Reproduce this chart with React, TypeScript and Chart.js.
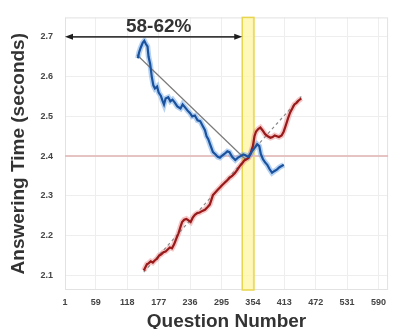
import React, { useEffect, useRef } from "react";
import { Chart, registerables } from "chart.js";

Chart.register(...registerables);

const xTickValues = [1, 59, 118, 177, 236, 295, 354, 413, 472, 531, 590];
const yTickValues = [2.1, 2.2, 2.3, 2.4, 2.5, 2.6, 2.7];

const blueX = [138, 140, 143, 147, 150, 153, 156, 158, 161, 164, 167, 170, 174, 177, 181, 184, 187, 190, 195, 199, 203, 207, 212, 218, 222, 227, 231, 236, 240, 245, 250, 255, 260, 264, 267, 270, 274, 279, 284, 288, 292, 297, 301, 306, 310, 315, 321, 326, 331, 336, 340, 345, 349, 353, 358, 362, 366, 369, 373, 377, 381, 385, 390, 394, 399, 404, 408, 412];
const blueY = [2.646, 2.66, 2.672, 2.685, 2.69, 2.682, 2.676, 2.65, 2.632, 2.6, 2.578, 2.57, 2.575, 2.56, 2.552, 2.54, 2.53, 2.545, 2.548, 2.538, 2.542, 2.535, 2.525, 2.52, 2.53, 2.522, 2.515, 2.508, 2.5, 2.502, 2.49, 2.488, 2.475, 2.465, 2.45, 2.443, 2.428, 2.41, 2.404, 2.398, 2.396, 2.402, 2.406, 2.412, 2.41, 2.398, 2.39, 2.396, 2.4, 2.404, 2.402, 2.398, 2.404, 2.414, 2.422, 2.43, 2.425, 2.405, 2.392, 2.384, 2.378, 2.368, 2.358, 2.362, 2.366, 2.372, 2.375, 2.378];

const redX = [149, 152, 155, 158, 162, 166, 170, 174, 178, 182, 186, 190, 194, 198, 202, 206, 210, 214, 218, 221, 225, 229, 233, 237, 241, 245, 249, 254, 259, 264, 269, 273, 276, 279, 283, 288, 293, 297, 301, 305, 310, 315, 320, 325, 329, 334, 338, 342, 346, 350, 354, 357, 360, 364, 368, 372, 377, 382, 387, 391, 395, 399, 403, 408, 412, 416, 420, 424, 428, 432, 436, 440, 445];
const redY = [2.112, 2.12, 2.128, 2.13, 2.135, 2.132, 2.138, 2.142, 2.15, 2.153, 2.158, 2.16, 2.165, 2.17, 2.168, 2.178, 2.192, 2.205, 2.222, 2.234, 2.24, 2.242, 2.238, 2.234, 2.245, 2.252, 2.256, 2.258, 2.262, 2.265, 2.272, 2.278, 2.29, 2.302, 2.308, 2.315, 2.322, 2.328, 2.333, 2.338, 2.345, 2.35, 2.357, 2.366, 2.374, 2.382, 2.389, 2.392, 2.396, 2.408, 2.425, 2.45, 2.462, 2.468, 2.472, 2.465, 2.455, 2.45, 2.446, 2.448, 2.452, 2.45, 2.448, 2.452, 2.462, 2.478, 2.495, 2.51, 2.52, 2.53, 2.534, 2.54, 2.545];

const blueTrendX = [136, 340];
const blueTrendY = [2.655, 2.392];
const redTrendX = [149, 445];
const redTrendY = [2.108, 2.55];

const bandRange = [334, 356];
const arrowRange = [1, 334];
const arrowLevel = 2.7;
const refLevel = 2.4;
const bandLabel = "58-62%";
const bandLabelX = 177;

const FONT = "'Liberation Sans', Arial, sans-serif";

const zip = (xs: number[], ys: number[]) => xs.map((x, i) => ({ x, y: ys[i] }));

const annotPlugin = {
  id: "annot",
  beforeDatasetsDraw(chart: any) {
    const { ctx, chartArea: a, scales } = chart;
    const x = scales.x, y = scales.y;
    ctx.save();
    ctx.strokeStyle = "#e2e2e2";
    ctx.lineWidth = 1;
    ctx.strokeRect(a.left + 0.5, a.top + 0.5, a.right - a.left - 1, a.bottom - a.top - 1);
    const x0 = x.getPixelForValue(bandRange[0]);
    const x1 = x.getPixelForValue(bandRange[1]);
    ctx.fillStyle = "rgba(255,246,160,0.75)";
    ctx.fillRect(x0, a.top, x1 - x0, a.bottom - a.top);
    ctx.strokeStyle = "#e8d650";
    ctx.lineWidth = 1.5;
    ctx.strokeRect(x0, a.top, x1 - x0, a.bottom - a.top);
    const yy = y.getPixelForValue(refLevel);
    ctx.strokeStyle = "rgba(228,190,190,0.9)";
    ctx.lineWidth = 2;
    ctx.beginPath();
    ctx.moveTo(a.left, yy);
    ctx.lineTo(a.right, yy);
    ctx.stroke();
    ctx.restore();
  },
  afterDatasetsDraw(chart: any) {
    const { ctx, scales } = chart;
    const x = scales.x, y = scales.y;
    const xa = x.getPixelForValue(arrowRange[0]);
    const xb = x.getPixelForValue(arrowRange[1]);
    const ya = y.getPixelForValue(arrowLevel);
    ctx.save();
    ctx.strokeStyle = "#3a3a3a";
    ctx.fillStyle = "#1e1e1e";
    ctx.lineWidth = 1.6;
    ctx.beginPath();
    ctx.moveTo(xa + 4, ya);
    ctx.lineTo(xb - 4, ya);
    ctx.stroke();
    ctx.beginPath();
    ctx.moveTo(xa, ya);
    ctx.lineTo(xa + 8, ya - 3);
    ctx.lineTo(xa + 8, ya + 3);
    ctx.closePath();
    ctx.fill();
    ctx.beginPath();
    ctx.moveTo(xb, ya);
    ctx.lineTo(xb - 8, ya - 3);
    ctx.lineTo(xb - 8, ya + 3);
    ctx.closePath();
    ctx.fill();
    ctx.font = `bold 19px ${FONT}`;
    ctx.fillStyle = "#333";
    ctx.textAlign = "center";
    ctx.textBaseline = "middle";
    ctx.fillText(bandLabel, x.getPixelForValue(bandLabelX), ya - 10);
    ctx.restore();
  },
};

export default function App() {
  const ref = useRef<HTMLCanvasElement | null>(null);
  useEffect(() => {
    document.body.style.margin = "0";
    const canvas = ref.current;
    if (!canvas) return;
    const chart = new Chart(canvas, {
      type: "scatter",
      data: {
        datasets: [
          { data: zip(blueX, blueY), showLine: true, borderColor: "#1b529e", borderWidth: 2.2, pointRadius: 0, tension: 0 },
          { data: zip(redX, redY), showLine: true, borderColor: "#981a1a", borderWidth: 2.2, pointRadius: 0, tension: 0 },
          { data: zip(blueTrendX, blueTrendY), showLine: true, borderColor: "#7a7a7a", borderWidth: 1.2, pointRadius: 0 },
          { data: zip(redTrendX, redTrendY), showLine: true, borderColor: "#8a8a8a", borderWidth: 1.2, borderDash: [3, 3], pointRadius: 0 },
          { data: zip(blueX, blueY), showLine: true, borderColor: "rgba(110,165,230,0.5)", borderWidth: 5.5, pointRadius: 0, tension: 0 },
          { data: zip(redX, redY), showLine: true, borderColor: "rgba(235,130,130,0.45)", borderWidth: 5.5, pointRadius: 0, tension: 0 },
        ],
      },
      options: {
        responsive: false,
        animation: false,
        devicePixelRatio: 1,
        layout: { padding: { top: 10, right: 0, left: 0, bottom: 0 } },
        plugins: { legend: { display: false }, tooltip: { enabled: false } },
        scales: {
          x: {
            type: "linear",
            min: 1,
            max: 608,
            afterBuildTicks: (s: any) => { s.ticks = xTickValues.map((v) => ({ value: v })); },
            afterFit: (s: any) => { s.height = 39; },
            grid: { color: "#eeeeee", drawTicks: false },
            border: { display: false },
            ticks: {
              padding: 7,
              color: "#444",
              font: { family: FONT, size: 9, weight: "bold" },
              callback: (v: any) => String(v),
              maxRotation: 0,
              autoSkip: false,
            },
            title: {
              display: true,
              text: "Question Number",
              color: "#333",
              font: { family: FONT, size: 19, weight: "bold", lineHeight: 1.2 },
              padding: { top: 0, bottom: -4 },
            },
          },
          y: {
            type: "linear",
            min: 2.063,
            max: 2.749,
            afterBuildTicks: (s: any) => { s.ticks = yTickValues.map((v) => ({ value: v })); },
            afterFit: (s: any) => { s.width = 65; },
            grid: { color: "#eeeeee", drawTicks: false },
            border: { display: false },
            ticks: {
              padding: 12,
              color: "#444",
              font: { family: FONT, size: 9, weight: "bold" },
              callback: (v: any) => Number(v).toFixed(1),
            },
            title: {
              display: true,
              text: "Answering Time (seconds)",
              color: "#333",
              font: { family: FONT, size: 19, weight: "bold", lineHeight: 1.2 },
              padding: { top: 7, bottom: 0 },
            },
          },
        },
      },
      plugins: [annotPlugin],
    });
    return () => chart.destroy();
  }, []);
  return (
    <div style={{ position: "fixed", left: 0, top: 0, width: 393, height: 329, background: "#fff" }}>
      <canvas ref={ref} width={393} height={329} style={{ width: 393, height: 329, display: "block" }} />
    </div>
  );
}
